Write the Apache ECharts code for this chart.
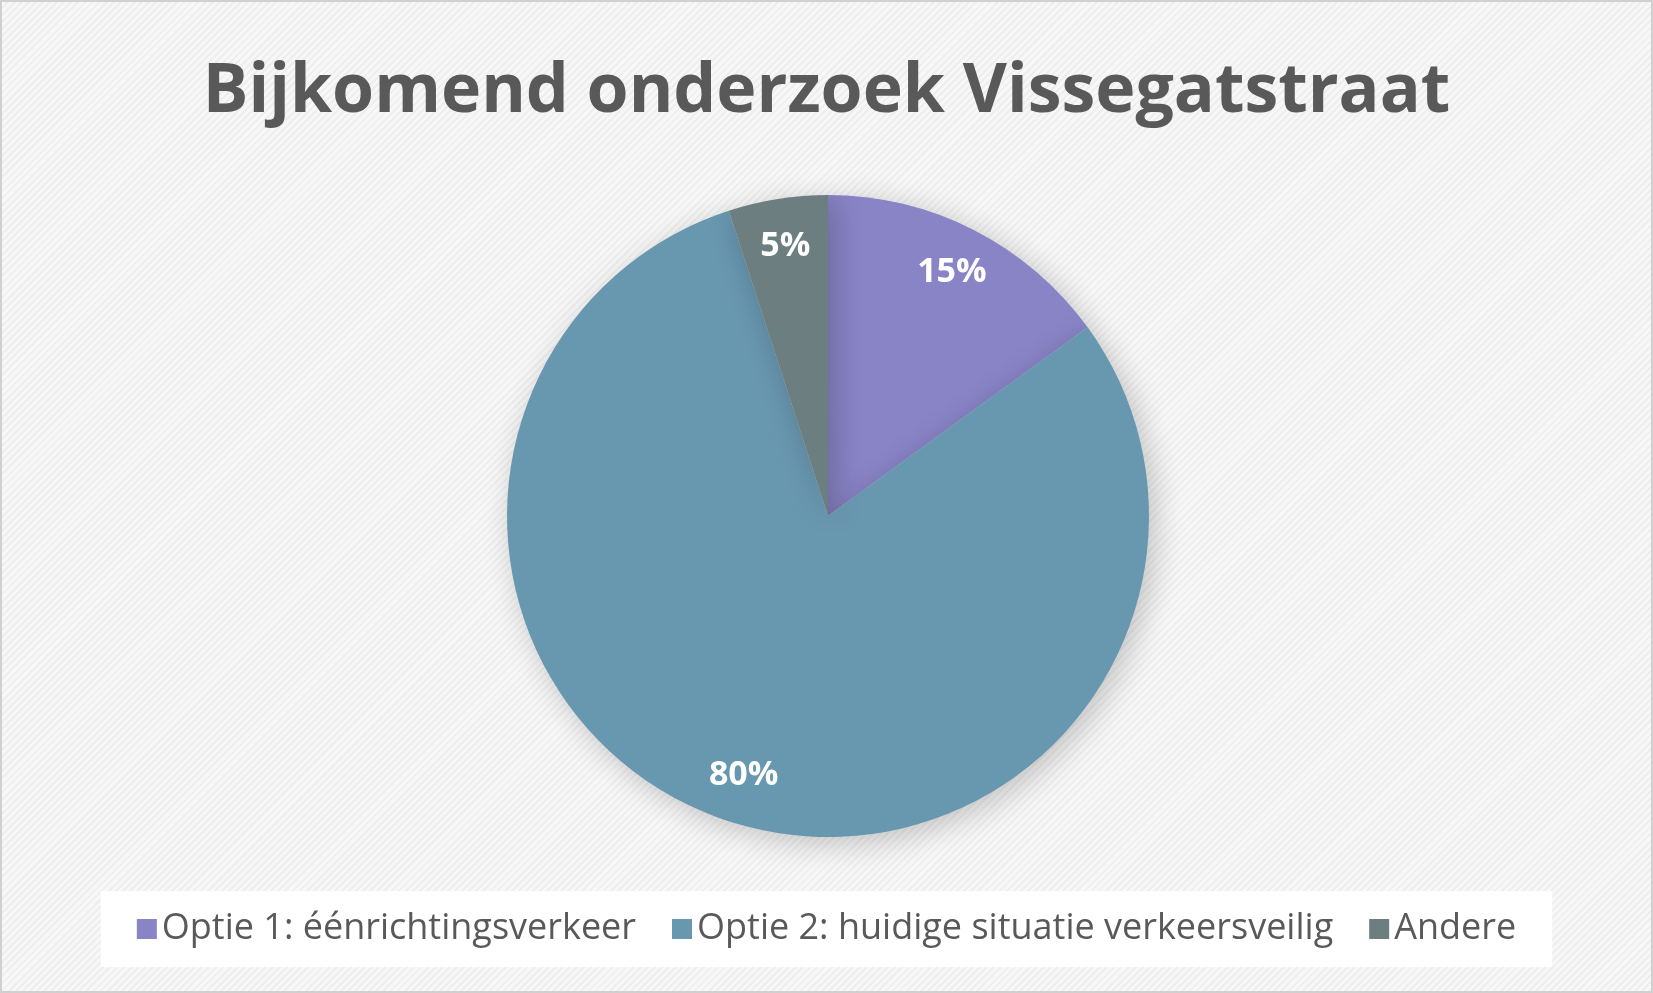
<!DOCTYPE html>
<html><head><meta charset="utf-8">
<script src="https://cdn.jsdelivr.net/npm/echarts@6/dist/echarts.min.js"></script>
<style>
html,body{margin:0;padding:0;}
#c{width:1653px;height:993px;box-sizing:border-box;border:2px solid #d0d0d0;
background:repeating-linear-gradient(135deg,#f7f7f7 0px,#f7f7f7 3px,#eeeeee 3px,#eeeeee 5px);}
</style></head><body><div id="c"></div>
<script>
const titleText = 'Bijkomend onderzoek Vissegatstraat';
const categories = ['Optie 1: éénrichtingsverkeer','Optie 2: huidige situatie verkeersveilig','Andere'];
const values = [15, 80, 5];
const colors = ['#8884C6','#6897B0','#6C7E80'];
const chart = echarts.init(document.getElementById('c'));
const font = 'Open Sans, Noto Sans';
chart.setOption({
  title:{text:titleText,left:'center',top:52,textStyle:{fontFamily:font,fontWeight:'bold',fontSize:68,color:'#595959'}},
  legend:{bottom:24,left:'center',itemWidth:20,itemHeight:20,itemGap:36,icon:'rect',
    backgroundColor:'#ffffff',padding:[20,36],
    data:categories,
    textStyle:{fontFamily:font,fontSize:36,color:'#595959'}},
  series:[{type:'pie',center:[826,514],radius:321,startAngle:90,clockwise:true,
    label:{show:false},labelLine:{show:false},
    itemStyle:{shadowBlur:30,shadowOffsetX:6,shadowOffsetY:6,shadowColor:'rgba(0,0,0,0.22)'},
    emphasis:{disabled:true},
    data:categories.map((n,i)=>({name:n,value:values[i],itemStyle:{color:colors[i]}}))},
  {type:'pie',center:[826,514],radius:[0,540],startAngle:90,clockwise:true,silent:true,
    label:{position:'inside',formatter:'{d}%',color:'#fff',fontWeight:'bold',fontSize:34,fontFamily:font},
    labelLine:{show:false},itemStyle:{color:'transparent'},emphasis:{disabled:true},
    data:categories.map((n,i)=>({name:n,value:values[i]}))}]
});
</script></body></html>
